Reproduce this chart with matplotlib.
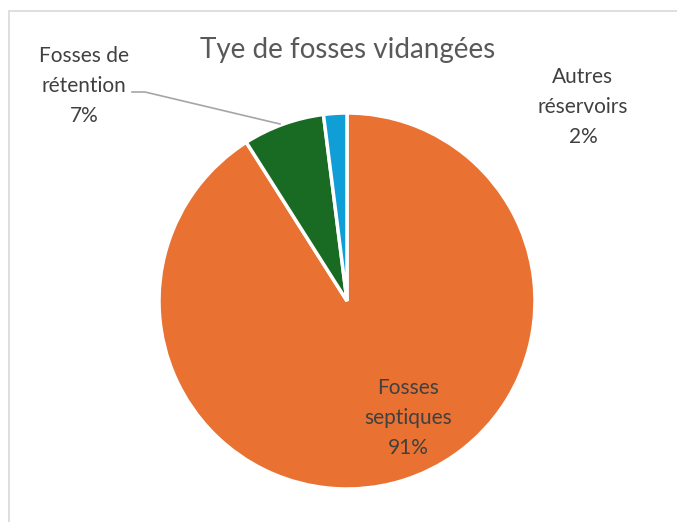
import matplotlib
matplotlib.use('Agg')
import matplotlib.pyplot as plt
from matplotlib.patches import Rectangle

plt.rcParams['font.family'] = ['Lato', 'DejaVu Sans']

labels = ['Fosses septiques', 'Fosses de\nrétention', 'Autres\nréservoirs']
values = [91, 7, 2]
colors = ['#E97132', '#196B24', '#0F9ED5']

W, H = 677, 522
fig = plt.figure(figsize=(W / 100, H / 100), dpi=100)

# chart frame (left and top edges only visible)
fig.patches.append(Rectangle((9 / W, -0.1), 1.2, 1.1 - 11 / H + 0.0,
                             transform=fig.transFigure, fill=False,
                             edgecolor='#D9D9D9', linewidth=1.2))

cx, cy, r = 347, 301, 188
ax = fig.add_axes([(cx - r) / W, (H - cy - r) / H, 2 * r / W, 2 * r / H])
ax.pie(values, colors=colors, startangle=90, counterclock=False, radius=1,
       wedgeprops=dict(edgecolor='white', linewidth=2.5))
ax.set_xlim(-1, 1)
ax.set_ylim(-1, 1)
ax.axis('off')


def px(x, y):
    return x / W, 1 - y / H


txt = dict(color='#404040', fontsize=15, ha='center', va='center',
           linespacing=1.62)
fig.text(*px(348, 50), 'Tye de fosses vidangées', color='#595959',
         fontsize=20, ha='center', va='center')
fig.text(*px(408, 418), f'{labels[0]}\n{values[0]}%'.replace(' ', '\n'), **txt)
fig.text(*px(84, 86), f'{labels[1]}\n{values[1]}%', **txt)
fig.text(*px(583, 107), f'{labels[2]}\n{values[2]}%', **txt)

# leader line for the green slice label
lx, ly = zip(px(132, 92), px(145, 92), px(280, 124))
fig.add_artist(plt.Line2D(lx, ly, transform=fig.transFigure,
                          color='#A6A6A6', linewidth=1.2))

fig.savefig('out.png', dpi=100)
